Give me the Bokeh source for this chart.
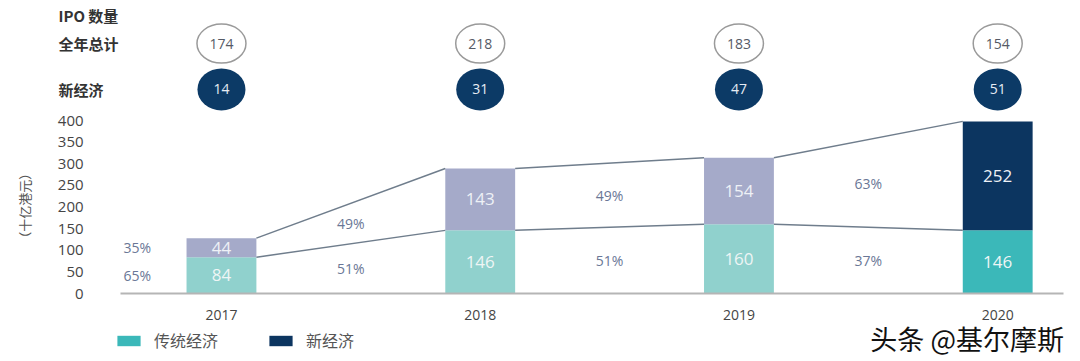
import math
from bokeh.plotting import figure
from bokeh.models import (ColumnDataSource, Range1d, FixedTicker, Label, Legend, LegendItem)
from bokeh.core.properties import value
from bokeh.embed import file_html
from bokeh.resources import INLINE

# ---- data ----
years = ["2017", "2018", "2019", "2020"]
traditional = [84, 146, 160, 146]
new_economy = [44, 143, 154, 252]
ipo_total = [174, 218, 183, 154]
ipo_new = [14, 31, 47, 51]
pct_new = ["35%", "49%", "49%", "63%"]
pct_trad = ["65%", "51%", "51%", "37%"]
y_ticks = [0, 50, 100, 150, 200, 250, 300, 350, 400]
row_labels = ["IPO 数量", "全年总计", "新经济"]
legend_labels = ["传统经济", "新经济"]
y_title = "（十亿港元）"
watermark = "头条 @基尔摩斯"

trad_colors = ["#90d1cd", "#90d1cd", "#90d1cd", "#3bb8b9"]
new_colors = ["#a5aac9", "#a5aac9", "#a5aac9", "#0c3560"]

NUM = "Open Sans"
CJK = "Noto Sans CJK SC"

xs = list(range(len(years)))
BW = 0.27
totals = [t + n for t, n in zip(traditional, new_economy)]

# layout constants (data-space positions of decorations)
X_LEFT = -0.39      # start of baseline / y axis position
X_RIGHT = 3.256     # end of baseline
ROW_Y = [643, 578, 472]
ROW_X = -0.63

p = figure(width=1080, height=361, output_backend="svg", toolbar_location=None,
           x_range=Range1d(-0.854, 3.320), y_range=Range1d(-157.2, 677.5),
           min_border_left=0, min_border_right=0, min_border_top=0, min_border_bottom=0)
p.outline_line_color = None
p.grid.grid_line_color = None
p.background_fill_color = "white"
p.border_fill_color = "white"

src = ColumnDataSource(dict(x=xs, trad=traditional, tot=totals,
                            tc=trad_colors, nc=new_colors,
                            trad_mid=[t / 2 for t in traditional],
                            new_mid=[t + n / 2 for t, n in zip(traditional, new_economy)],
                            trad_txt=[str(v) for v in traditional],
                            new_txt=[str(v) for v in new_economy]))

r_trad = p.vbar(x="x", width=BW, bottom=0, top="trad", fill_color="tc", line_color=None, source=src)
r_new = p.vbar(x="x", width=BW, bottom="trad", top="tot", fill_color="nc", line_color=None, source=src)

p.text(x="x", y="trad_mid", text="trad_txt", source=src, text_align="center", text_baseline="middle",
       text_font=value(NUM), text_font_size="17px", text_color="#eef5f5")
p.text(x="x", y="new_mid", text="new_txt", source=src, text_align="center", text_baseline="middle",
       text_font=value(NUM), text_font_size="17px", text_color="#eef1f6")

# connecting lines between bars
for i in range(len(xs) - 1):
    x0 = xs[i] + BW / 2
    x1 = xs[i + 1] - BW / 2
    p.line([x0, x1], [totals[i], totals[i + 1]], line_color="#6f7d8c", line_width=1.5)
    p.line([x0, x1], [traditional[i], traditional[i + 1]], line_color="#6f7d8c", line_width=1.5)

# percentage labels
pct_x = [-0.325] + [i + 0.5 for i in range(len(xs) - 1)]
up_y = [traditional[0] + new_economy[0] / 2]
lo_y = [traditional[0] / 2]
for i in range(len(xs) - 1):
    sm = (traditional[i] + traditional[i + 1]) / 2
    tm = (totals[i] + totals[i + 1]) / 2
    up_y.append((sm + tm) / 2)
    lo_y.append(sm / 2)
p.text(x=pct_x, y=up_y, text=pct_new, text_align="center", text_baseline="middle",
       text_font=value(NUM), text_font_size="14px", text_color="#6a7796")
p.text(x=pct_x, y=lo_y, text=pct_trad, text_align="center", text_baseline="middle",
       text_font=value(NUM), text_font_size="14px", text_color="#6a7796")

# IPO count circles
p.ellipse(x=xs, y=[ROW_Y[1]] * 4, width=49, height=39, width_units="screen", height_units="screen",
          fill_color="white", line_color="#9a9a9a", line_width=1.5)
p.text(x=xs, y=[ROW_Y[1]] * 4, text=[str(v) for v in ipo_total], text_align="center",
       text_baseline="middle", text_font=value(NUM), text_font_size="14px", text_color="#555a66")
p.ellipse(x=xs, y=[ROW_Y[2]] * 4, width=48, height=42, width_units="screen", height_units="screen",
          fill_color="#0c3a66", line_color=None)
p.text(x=xs, y=[ROW_Y[2]] * 4, text=[str(v) for v in ipo_new], text_align="center",
       text_baseline="middle", text_font=value(NUM), text_font_size="14px", text_color="#e6ecf4")

# row labels
p.text(x=[ROW_X] * 3, y=ROW_Y, text=row_labels, text_align="left", text_baseline="middle",
       text_font=value(CJK), text_font_size="15px", text_font_style="bold", text_color="#333333")

# y title
p.text(x=[-0.761], y=[203], text=[y_title], angle=math.pi / 2, text_align="center",
       text_baseline="middle", text_font=value(CJK), text_font_size="13px", text_color="#555555")

# axes (fixed inside the frame)
p.yaxis.fixed_location = X_LEFT
p.yaxis.ticker = FixedTicker(ticks=y_ticks)
p.yaxis.axis_line_color = None
p.yaxis.major_tick_line_color = None
p.yaxis.minor_tick_line_color = None
p.yaxis.major_label_standoff = 31
p.yaxis.major_label_text_font = NUM
p.yaxis.major_label_text_font_size = "15px"
p.yaxis.major_label_text_color = "#454545"

p.xaxis.fixed_location = 0
p.xaxis.bounds = (X_LEFT, X_RIGHT)
p.xaxis.ticker = FixedTicker(ticks=xs)
p.xaxis.major_label_overrides = {i: y for i, y in zip(xs, years)}
p.xaxis.axis_line_color = "#b5b5b5"
p.xaxis.axis_line_width = 2
p.xaxis.major_tick_line_color = None
p.xaxis.minor_tick_line_color = None
p.xaxis.major_label_standoff = 10
p.xaxis.major_label_text_font = NUM
p.xaxis.major_label_text_font_size = "14px"
p.xaxis.major_label_text_color = "#454545"

legend = Legend(items=[LegendItem(label=legend_labels[0], renderers=[r_trad], index=3),
                       LegendItem(label=legend_labels[1], renderers=[r_new], index=3)],
                orientation="horizontal", location=(114, 9), border_line_color=None,
                background_fill_alpha=0, label_text_font=CJK, label_text_font_size="16px",
                label_text_color="#555555", glyph_width=29, glyph_height=13,
                spacing=48, padding=0, margin=0, label_standoff=11)
p.add_layout(legend)

p.add_layout(Label(x=X_RIGHT, y=-103, text=watermark,
                   text_font=CJK, text_font_size="27px", text_color="#111111",
                   text_align="right", text_baseline="middle"))

open("out.html", "w").write(file_html(p, INLINE))
